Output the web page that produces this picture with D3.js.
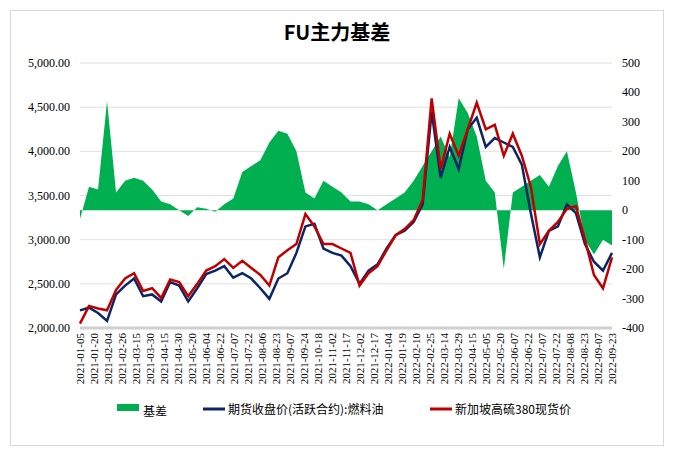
<!DOCTYPE html><html><head><meta charset="utf-8"><script src="https://cdn.jsdelivr.net/npm/d3@7"></script>
<style>body{margin:0;background:#fff}</style></head><body><svg id="c" width="674" height="460"></svg>
<script>
const xLabels=["2021-01-05","2021-01-20","2021-02-04","2021-02-26","2021-03-15","2021-03-30","2021-04-15","2021-04-30","2021-05-20","2021-06-04","2021-06-22","2021-07-07","2021-07-22","2021-08-06","2021-08-23","2021-09-07","2021-09-24","2021-10-18","2021-11-02","2021-11-17","2021-12-02","2021-12-17","2022-01-04","2022-01-19","2022-02-10","2022-02-25","2022-03-14","2022-03-29","2022-04-15","2022-05-05","2022-05-20","2022-06-07","2022-06-22","2022-07-07","2022-07-22","2022-08-08","2022-08-23","2022-09-07","2022-09-23"];
const futures=[2200,2230,2170,2080,2380,2480,2560,2360,2380,2300,2520,2480,2300,2450,2610,2650,2700,2570,2620,2560,2450,2330,2560,2620,2850,3150,3180,2900,2850,2820,2700,2500,2650,2720,2900,3050,3100,3200,3400,4450,3700,4050,3800,4250,4380,4050,4150,4100,4050,3850,3300,2800,3100,3150,3400,3300,2950,2750,2650,2850];
const spot=[2050,2250,2220,2200,2430,2560,2620,2420,2450,2340,2550,2520,2360,2500,2650,2700,2780,2680,2760,2680,2600,2480,2800,2880,2950,3290,3150,2950,2950,2900,2850,2480,2620,2700,2880,3050,3120,3220,3450,4600,3800,4200,3950,4250,4550,4250,4300,3950,4200,3950,3600,2950,3100,3200,3350,3380,3000,2600,2450,2800];
const basis=[-30,80,70,370,60,100,110,100,70,30,20,0,-20,10,5,-5,20,40,130,150,170,230,270,260,200,60,40,100,80,60,30,30,20,0,20,40,60,100,150,200,250,180,380,330,250,100,60,-200,60,80,100,120,80,150,200,60,-100,-150,-100,-120];
const leftTicks=[2000,2500,3000,3500,4000,4500,5000];
const rightTicks=[-400,-300,-200,-100,0,100,200,300,400,500];
</script>
<script>
const svg=d3.select("#c");
svg.append("rect").attr("x",10.5).attr("y",10.5).attr("width",653).attr("height",435).attr("fill","#fff").attr("stroke","#d9d9d9");
const L=80,R=612,T=63,B=328;
const yL=d3.scaleLinear().domain([2000,5000]).range([B,T]);
const yR=d3.scaleLinear().domain([-400,500]).range([B,T]);
const x=d3.scaleLinear().domain([0,futures.length-1]).range([L,R]);
const xl=d3.scalePoint().domain(xLabels).range([L,R]);
const serif="'Liberation Serif','DejaVu Serif',serif";
svg.append("g").selectAll("line").data(leftTicks).join("line").attr("x1",L).attr("x2",R).attr("y1",d=>yL(d)).attr("y2",d=>yL(d)).attr("stroke",d=>d===2000?"#d0d0d0":"#e0e0e0").attr("stroke-width",d=>d===2000?3:1);
svg.append("path").datum(basis).attr("fill","#00b050").attr("d",d3.area().x((d,i)=>x(i)).y0(yR(0)).y1(d=>yR(d)));
svg.append("path").datum(futures).attr("fill","none").attr("stroke","#0b2566").attr("stroke-width",2.5).attr("d",d3.line().x((d,i)=>x(i)).y(d=>yL(d)));
svg.append("path").datum(spot).attr("fill","none").attr("stroke","#c00000").attr("stroke-width",2.5).attr("d",d3.line().x((d,i)=>x(i)).y(d=>yL(d)));
const fmt=d3.format(",.2f");
svg.append("g").selectAll("text").data(leftTicks).join("text").attr("x",70).attr("y",d=>yL(d)+4).attr("text-anchor","end").attr("font-family",serif).attr("font-size",12).text(d=>fmt(d));
svg.append("g").selectAll("text").data(rightTicks).join("text").attr("x",622).attr("y",d=>yR(d)+4).attr("font-family",serif).attr("font-size",12).text(d=>d);
svg.append("g").selectAll("text").data(xLabels).join("text").attr("transform",d=>`translate(${xl(d)+4},333) rotate(-90)`).attr("text-anchor","end").attr("font-family",serif).attr("font-size",11).text(d=>d);
svg.append("text").attr("x",337).attr("y",40).attr("text-anchor","middle").attr("font-family","'Noto Sans CJK SC',sans-serif").attr("font-weight","bold").attr("font-size",20).text("FU主力基差");
const lg=svg.append("g").attr("font-family","'Noto Sans CJK SC',serif").attr("font-size",12);
lg.append("rect").attr("x",117).attr("y",404).attr("width",22).attr("height",7).attr("fill","#00b050");
lg.append("text").attr("x",143).attr("y",416).text("基差");
lg.append("line").attr("x1",203).attr("x2",225).attr("y1",409).attr("y2",409).attr("stroke","#0b2566").attr("stroke-width",3);
lg.append("text").attr("x",228).attr("y",414).text("期货收盘价(活跃合约):燃料油");
lg.append("line").attr("x1",430).attr("x2",452).attr("y1",409).attr("y2",409).attr("stroke","#c00000").attr("stroke-width",3);
lg.append("text").attr("x",455).attr("y",414).text("新加坡高硫380现货价");
</script></body></html>
